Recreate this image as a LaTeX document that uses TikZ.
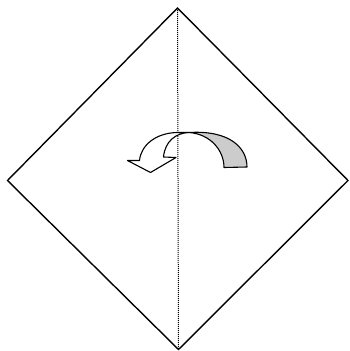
\documentclass[tikz,border=0pt]{standalone}
\begin{document}
\begin{tikzpicture}[x=1pt,y=-1pt,
  edge/.style={line width=1.4pt,line join=miter},
  crease/.style={line width=1pt,dash pattern=on 1pt off 1pt},
  arrowline/.style={line width=1.1pt,line join=round}]
\useasboundingbox (0,0) rectangle (349,351);
\coordinate (T) at (177.5,8);
\coordinate (L) at (7.5,180.5);
\coordinate (R) at (348,180.5);
\coordinate (B) at (178.5,349.5);
\draw[crease] (T) -- (B);
\draw[edge] (T) -- (R) -- (B) -- (L) -- cycle;
% grey back of arrow
\draw[arrowline,fill=black!20] (189,132.5) .. controls (230,130) and (247,148) .. (247,167)
  -- (224,167.5) .. controls (224,150) and (210,134) .. (189,132.5);
% white front of arrow
\draw[arrowline,fill=white] (127.5,160.5) -- (150.5,172.5) -- (176,157.5) -- (163.5,157)
  .. controls (165,141) and (176,133) .. (189,132.5)
  -- (177,132.5) .. controls (156,133) and (141,145) .. (139.5,160.5) -- cycle;
\end{tikzpicture}
\end{document}
